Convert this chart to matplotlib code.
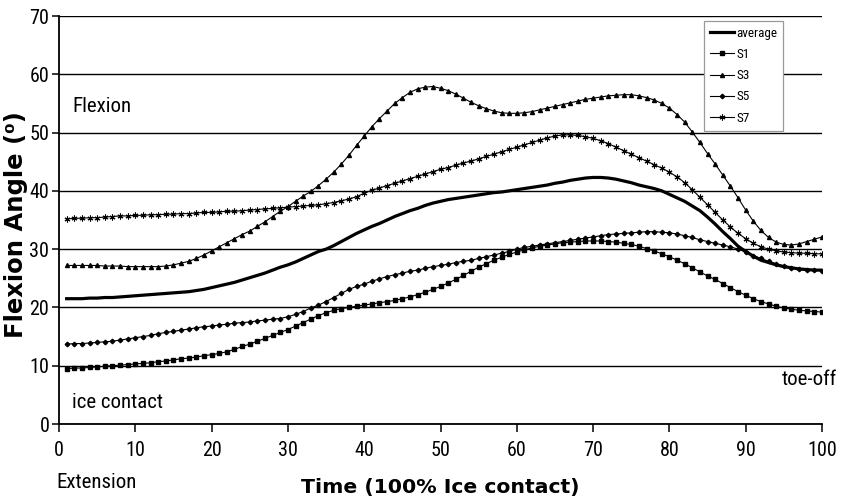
import matplotlib
matplotlib.use('Agg')
import matplotlib.pyplot as plt

# ---------------- data ----------------
time_pct = list(range(1, 101))

average = [21.5, 21.5, 21.5, 21.6, 21.6, 21.7, 21.7, 21.8, 21.9, 22.0,
           22.1, 22.2, 22.3, 22.4, 22.5, 22.6, 22.7, 22.9, 23.1, 23.4,
           23.7, 24.0, 24.3, 24.7, 25.1, 25.5, 25.9, 26.4, 26.9, 27.3,
           27.8, 28.4, 29.0, 29.6, 30.0, 30.6, 31.3, 32.0, 32.7, 33.3,
           33.9, 34.4, 35.0, 35.6, 36.1, 36.6, 37.0, 37.5, 37.9, 38.2,
           38.5, 38.7, 38.9, 39.1, 39.3, 39.5, 39.7, 39.8, 40.0, 40.2,
           40.4, 40.6, 40.8, 41.0, 41.3, 41.5, 41.8, 42.0, 42.2, 42.3,
           42.3, 42.2, 42.0, 41.7, 41.4, 41.0, 40.7, 40.4, 40.0, 39.4,
           38.8, 38.2, 37.4, 36.6, 35.5, 34.3, 33.0, 31.8, 30.5, 29.6,
           28.8, 28.1, 27.7, 27.3, 27.0, 26.8, 26.6, 26.5, 26.4, 26.4]

s1 = [9.5, 9.6, 9.6, 9.7, 9.8, 9.9, 10.0, 10.1, 10.2, 10.3,
      10.4, 10.5, 10.7, 10.8, 11.0, 11.2, 11.3, 11.5, 11.7, 11.9,
      12.1, 12.4, 12.8, 13.3, 13.7, 14.2, 14.7, 15.2, 15.7, 16.2,
      16.8, 17.4, 18.0, 18.6, 19.1, 19.5, 19.8, 20.0, 20.2, 20.4,
      20.6, 20.8, 21.0, 21.2, 21.5, 21.8, 22.2, 22.6, 23.1, 23.6,
      24.2, 24.8, 25.5, 26.2, 26.9, 27.5, 28.1, 28.6, 29.1, 29.5,
      29.9, 30.2, 30.5, 30.7, 30.9, 31.1, 31.2, 31.3, 31.4, 31.4,
      31.4, 31.3, 31.2, 31.0, 30.8, 30.5, 30.1, 29.7, 29.2, 28.7,
      28.1, 27.5, 26.8, 26.1, 25.4, 24.8, 24.1, 23.4, 22.7, 22.1,
      21.5, 21.0, 20.6, 20.2, 19.9, 19.7, 19.5, 19.4, 19.3, 19.2]

s3 = [27.2, 27.2, 27.2, 27.2, 27.2, 27.1, 27.1, 27.1, 27.0, 27.0,
      27.0, 27.0, 27.0, 27.1, 27.3, 27.6, 27.9, 28.4, 29.0, 29.7,
      30.4, 31.1, 31.8, 32.5, 33.1, 33.9, 34.7, 35.6, 36.5, 37.3,
      38.2, 39.1, 39.9, 40.9, 42.0, 43.2, 44.6, 46.1, 47.8, 49.4,
      51.0, 52.4, 53.7, 55.0, 56.0, 56.9, 57.5, 57.8, 57.9, 57.6,
      57.2, 56.6, 55.9, 55.2, 54.6, 54.1, 53.7, 53.4, 53.3, 53.3,
      53.4, 53.6, 53.9, 54.2, 54.5, 54.8, 55.1, 55.4, 55.7, 55.9,
      56.1, 56.3, 56.4, 56.5, 56.5, 56.3, 56.0, 55.6, 55.0, 54.2,
      53.1, 51.8, 50.1, 48.3, 46.4, 44.6, 42.7, 40.8, 38.8, 36.7,
      34.8, 33.2, 32.0, 31.2, 30.8, 30.7, 30.9, 31.3, 31.7, 32.1]

s5 = [13.7, 13.8, 13.8, 13.9, 14.0, 14.1, 14.2, 14.4, 14.6, 14.8,
      15.0, 15.2, 15.5, 15.7, 15.9, 16.1, 16.3, 16.5, 16.7, 16.8,
      17.0, 17.1, 17.3, 17.4, 17.5, 17.7, 17.8, 18.0, 18.1, 18.4,
      18.8, 19.3, 19.9, 20.4, 21.0, 21.7, 22.4, 23.1, 23.6, 24.0,
      24.5, 24.9, 25.3, 25.6, 25.9, 26.2, 26.4, 26.7, 27.0, 27.2,
      27.4, 27.7, 27.9, 28.1, 28.4, 28.7, 29.0, 29.3, 29.6, 30.0,
      30.3, 30.5, 30.7, 30.9, 31.1, 31.3, 31.5, 31.7, 31.9, 32.1,
      32.3, 32.5, 32.6, 32.7, 32.8, 32.9, 33.0, 33.0, 32.9, 32.8,
      32.6, 32.3, 32.0, 31.6, 31.3, 31.0, 30.7, 30.4, 30.0, 29.5,
      28.9, 28.4, 27.9, 27.5, 27.1, 26.8, 26.6, 26.5, 26.4, 26.3]

s7 = [35.2, 35.3, 35.3, 35.4, 35.4, 35.5, 35.6, 35.7, 35.7, 35.8,
      35.8, 35.9, 35.9, 36.0, 36.0, 36.1, 36.1, 36.2, 36.3, 36.3,
      36.4, 36.5, 36.5, 36.6, 36.7, 36.8, 36.9, 37.0, 37.1, 37.2,
      37.3, 37.4, 37.5, 37.6, 37.8, 38.0, 38.3, 38.6, 39.0, 39.6,
      40.1, 40.5, 40.9, 41.3, 41.7, 42.1, 42.5, 42.9, 43.3, 43.7,
      44.0, 44.4, 44.8, 45.1, 45.5, 45.9, 46.3, 46.7, 47.1, 47.5,
      47.9, 48.3, 48.7, 49.1, 49.4, 49.6, 49.6, 49.5, 49.3, 49.0,
      48.6, 48.1, 47.5, 46.9, 46.3, 45.7, 45.1, 44.5, 43.9, 43.2,
      42.4, 41.4, 40.2, 38.9, 37.6, 36.3, 35.0, 33.8, 32.7, 31.8,
      31.0, 30.4, 30.0, 29.7, 29.5, 29.4, 29.3, 29.3, 29.2, 29.2]

x_ticks = [0, 10, 20, 30, 40, 50, 60, 70, 80, 90, 100]
y_ticks = [0, 10, 20, 30, 40, 50, 60, 70]

# ---------------- figure ----------------
narrow = ['Roboto Condensed', 'Liberation Sans', 'DejaVu Sans']
bold = ['DejaVu Sans']

W, H = 844, 501
fig = plt.figure(figsize=(W / 100, H / 100), dpi=100)
L, R, T, B = 59, 822, 16, 424
ax = fig.add_axes([L / W, 1 - B / H, (R - L) / W, (B - T) / H])

ax.plot(time_pct, average, color='black', lw=2.3, label='average', zorder=5)
ax.plot(time_pct, s1, color='black', lw=0.8, marker='s', ms=2.5, label='S1', zorder=4)
ax.plot(time_pct, s3, color='black', lw=0.8, marker='^', ms=2.9, label='S3', zorder=4)
ax.plot(time_pct, s5, color='black', lw=0.8, marker='D', ms=2.3, label='S5', zorder=4)
ax.plot(time_pct, s7, color='black', lw=0.8, marker=(6, 2, 0), ms=4.2, mew=0.8,
        label='S7', zorder=4)

ax.set_xlim(0, 100)
ax.set_ylim(0, 70)
ax.set_xticks(x_ticks)
ax.set_yticks(y_ticks)
ax.set_xticklabels([str(v) for v in x_ticks], fontfamily=narrow, fontsize=14.5)
ax.set_yticklabels([str(v) for v in y_ticks], fontfamily=narrow, fontsize=14.5)
ax.tick_params(axis='x', direction='out', length=5.5, width=1.1, pad=7, color='black')
ax.tick_params(axis='y', direction='out', length=5, width=1.1, pad=2, color='black')

ax.yaxis.grid(True, color='black', lw=1.0, zorder=1)
ax.set_axisbelow(True)
for s in ('top', 'right'):
    ax.spines[s].set_visible(False)
for s in ('left', 'bottom'):
    ax.spines[s].set_linewidth(1.3)
    ax.spines[s].set_color('black')

ax.set_xlabel('Time (100% Ice contact)', fontfamily=bold, fontweight='bold', fontsize=14.7)
ax.xaxis.set_label_coords(0.5, -0.133)
ax.set_ylabel('Flexion Angle (\u2070)', fontfamily=bold, fontweight='bold', fontsize=17.5)
ax.yaxis.set_label_coords(-0.040, 0.49)

ax.text(1.8, 53.5, 'Flexion', fontfamily=narrow, fontsize=15, ha='left', va='baseline')
ax.text(1.7, 2.75, 'ice contact', fontfamily=narrow, fontsize=15, ha='left', va='baseline')
ax.text(102, 6.7, 'toe-off', fontfamily=narrow, fontsize=15, ha='right', va='baseline',
        clip_on=False)
ax.text(-0.4, -11.0, 'Extension', fontfamily=narrow, fontsize=15, ha='left', va='baseline',
        clip_on=False)

leg = ax.legend(loc='upper right', bbox_to_anchor=(783 / W, 1 - 21 / H),
                bbox_transform=fig.transFigure, prop={'family': narrow, 'size': 9.5},
                frameon=True, fancybox=False, framealpha=1, edgecolor='#999999',
                borderaxespad=0, handlelength=1.8, handletextpad=0.15,
                labelspacing=0.62, borderpad=0.45)
leg.get_frame().set_linewidth(0.9)
leg.set_zorder(10)

fig.savefig('out.png', dpi=100)
